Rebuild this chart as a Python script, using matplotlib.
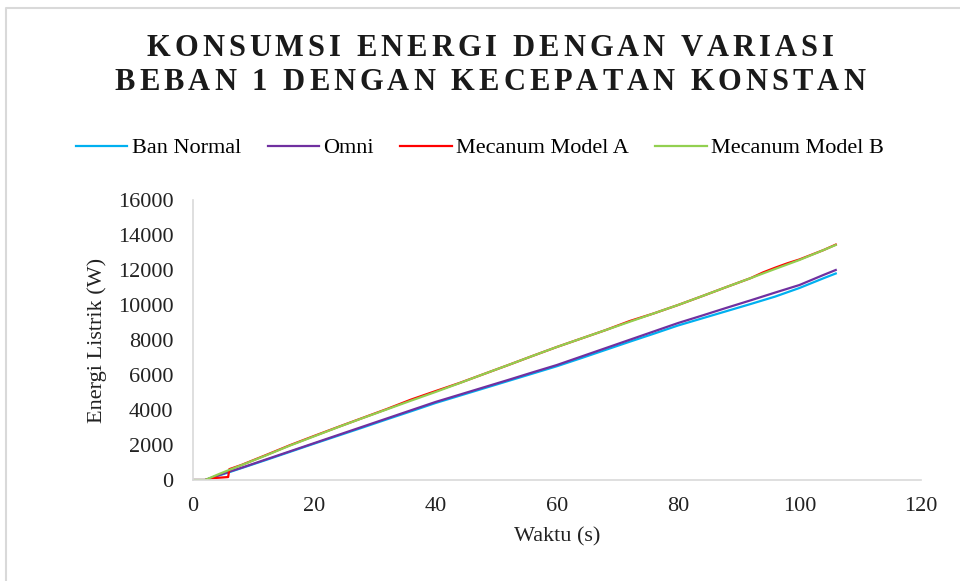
import matplotlib.pyplot as plt
from matplotlib.lines import Line2D

plt.rcParams['font.family'] = ['Liberation Serif', 'DejaVu Serif']

# --- Data (time in s, energy in W) ---
t_ban = [0, 2, 4, 6, 8, 12, 16, 20, 24, 28, 32, 36, 40, 44, 48, 52, 56, 60,
         64, 68, 72, 76, 80, 84, 88, 92, 96, 100, 104, 106]
e_ban = [0, 0, 230, 450, 680, 1140, 1610, 2080, 2540, 3000, 3470, 3930, 4400,
         4820, 5240, 5660, 6080, 6500, 6960, 7430, 7900, 8360, 8830, 9240,
         9650, 10060, 10480, 10970, 11530, 11800]

t_omni = [0, 2, 4, 6, 8, 12, 16, 20, 24, 28, 32, 36, 40, 44, 48, 52, 56, 60,
          64, 68, 72, 76, 80, 84, 88, 92, 96, 100, 104, 106]
e_omni = [0, 0, 250, 480, 700, 1170, 1640, 2110, 2580, 3050, 3520, 3990, 4460,
          4880, 5300, 5720, 6150, 6570, 7050, 7530, 8010, 8490, 8970, 9400,
          9840, 10270, 10710, 11140, 11720, 12000]

t_meca = [0, 2, 3, 5.8, 6, 8, 12, 16, 20, 24, 28, 32, 36, 40, 44, 48, 52, 56,
          60, 64, 68, 72, 76, 80, 84, 88, 92, 94, 96, 98, 100, 104, 106]
e_meca = [0, 0, 100, 170, 620, 860, 1420, 1990, 2520, 3040, 3550, 4060, 4600,
          5080, 5550, 6060, 6570, 7090, 7600, 8080, 8560, 9080, 9520, 10000,
          10510, 11030, 11540, 11860, 12130, 12380, 12600, 13140, 13450]

t_mecb = [0, 2, 4, 6, 8, 12, 16, 20, 24, 28, 32, 36, 40, 44, 48, 52, 56, 60,
          64, 68, 72, 76, 80, 84, 88, 92, 96, 100, 104, 106]
e_mecb = [0, 0, 300, 580, 850, 1400, 1970, 2500, 3030, 3540, 4040, 4540, 5030,
          5540, 6060, 6570, 7090, 7600, 8080, 8560, 9040, 9520, 10000, 10510,
          11030, 11540, 12060, 12570, 13140, 13430]

labels = ["Ban Normal", "Omni", "Mecanum Model A", "Mecanum Model B"]
colors = ["#00B0F0", "#7030A0", "#FF0000", "#92D050"]
title_lines = ["KONSUMSI ENERGI DENGAN VARIASI", "BEBAN 1 DENGAN KECEPATAN KONSTAN"]

fig = plt.figure(figsize=(9.6, 5.81), dpi=100)
ax = fig.add_axes([0.201, 0.1738, 0.758, 0.482])

series = [(t_ban, e_ban), (t_omni, e_omni), (t_meca, e_meca), (t_mecb, e_mecb)]
for (t, e), lab, col in zip(series, labels, colors):
    ax.plot(t, e, color=col, lw=1.6, label=lab)

ax.set_xlim(0, 120)
ax.set_ylim(0, 16000)
ax.set_xticks(range(0, 121, 20))
ax.set_yticks(range(0, 16001, 2000))
ax.tick_params(length=0, labelsize=16, colors='#222222')
ax.tick_params(axis='y', pad=14)
ax.tick_params(axis='x', pad=12)
for s in ['top', 'right']:
    ax.spines[s].set_visible(False)
for s in ['left', 'bottom']:
    ax.spines[s].set_color('#D9D9D9')
    ax.spines[s].set_linewidth(1.2)

ax.set_xlabel("Waktu (s)", fontsize=16, color='#222222', labelpad=8)
ax.set_ylabel("Energi Listrik (W)", fontsize=16, color='#222222', labelpad=8)

# --- letter-spaced title (drawn char by char) ---
renderer = fig.canvas.get_renderer()
title_kw = dict(fontsize=22, fontweight='bold', color='#1a1a1a')


def char_widths(s):
    out = []
    for ch in s:
        if ch == ' ':
            out.append(0.25 * title_kw['fontsize'] * 100 / 72)
            continue
        tmp = fig.text(0, 0, ch, **title_kw)
        out.append(tmp.get_window_extent(renderer).width)
        tmp.remove()
    return out


target_w = 687  # px, width of first title line
w0 = char_widths(title_lines[0])
spacing = (target_w - sum(w0)) / (len(title_lines[0]) - 1)
W, H = fig.bbox.width, fig.bbox.height
for line, yc in zip(title_lines, [49, 83]):
    ws = char_widths(line)
    total = sum(ws) + spacing * (len(line) - 1)
    x = 490 - total / 2
    for ch, w in zip(line, ws):
        if ch != ' ':
            fig.text(x / W, 1 - yc / H, ch, ha='left', va='center', **title_kw)
        x += w + spacing

fig.legend(loc='center', bbox_to_anchor=(0.5, 0.745), ncol=4, frameon=False,
           fontsize=16, handlelength=2.3, columnspacing=1.2, handletextpad=0.2)

# light frame around the chart area
fig.add_artist(Line2D([0.006, 0.006, 1.0], [0.0, 0.986, 0.986],
                      transform=fig.transFigure, color='#D9D9D9', lw=1.5))

fig.savefig("out.png", dpi=100)
